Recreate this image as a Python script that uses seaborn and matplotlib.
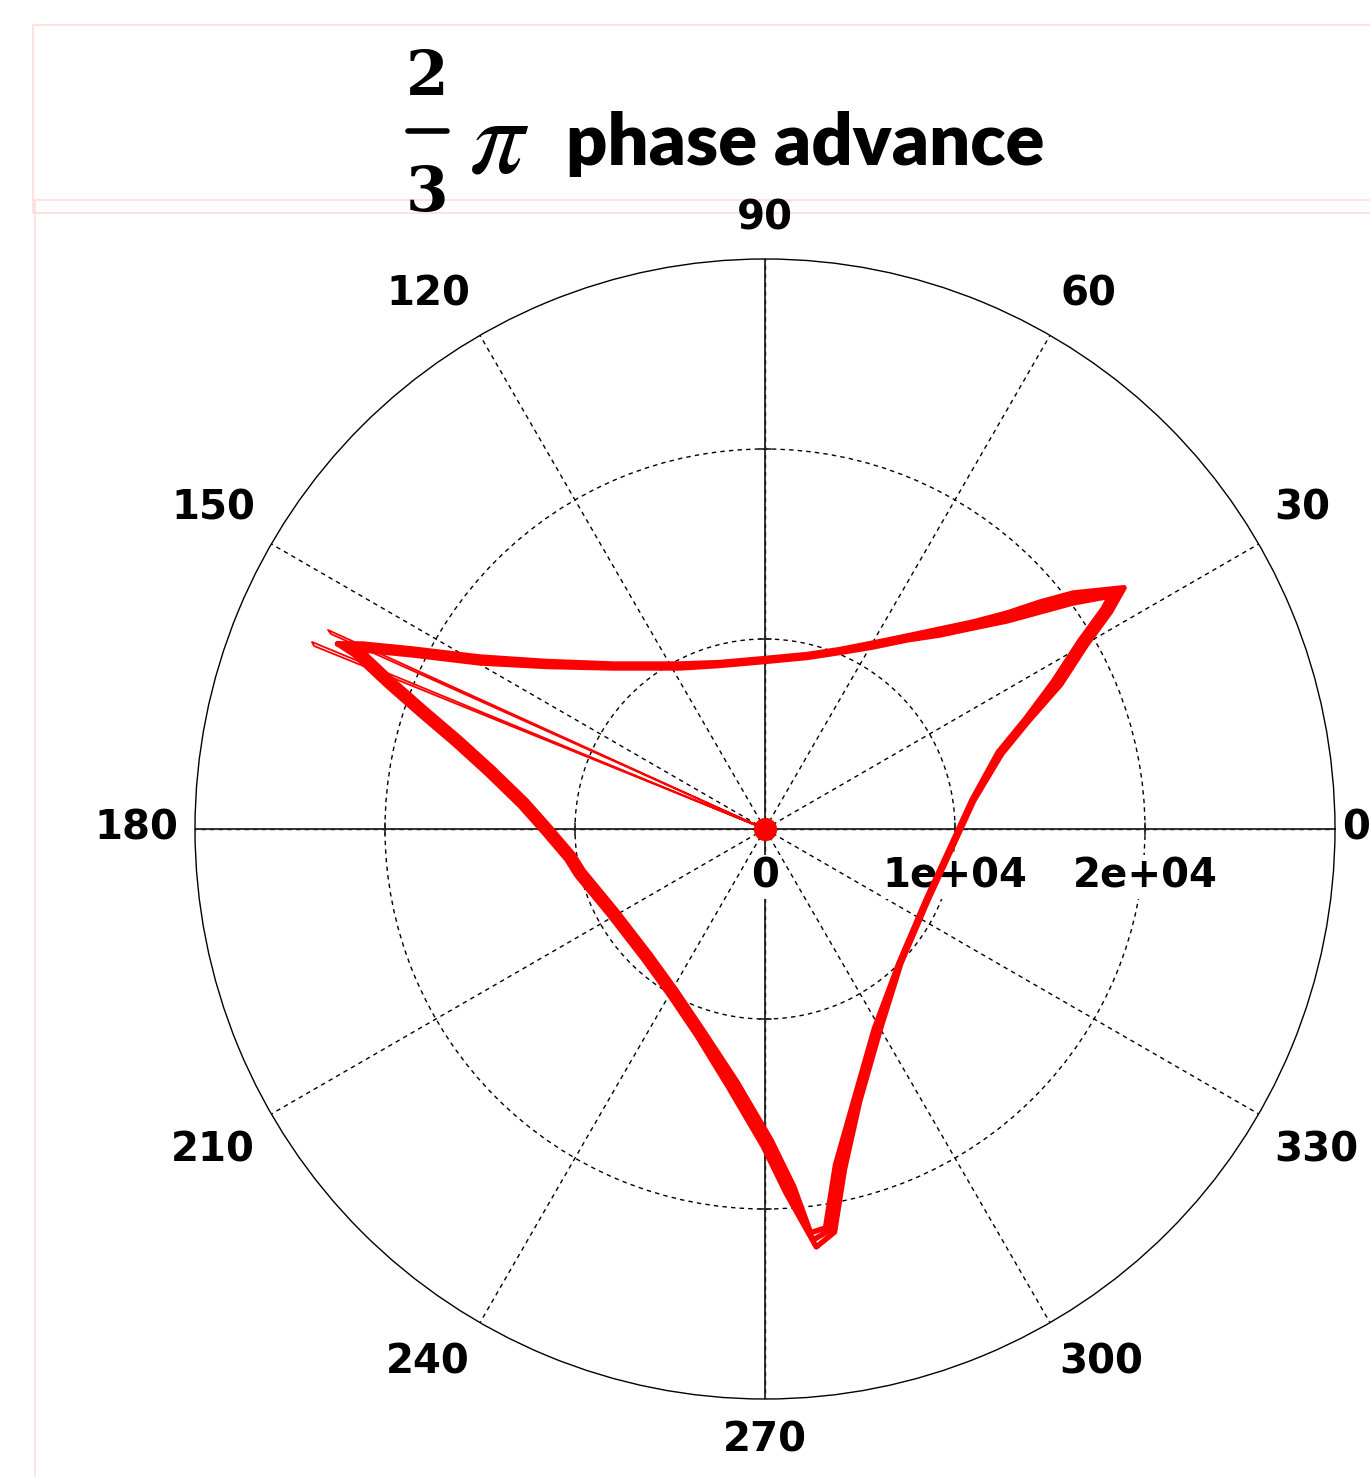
import numpy as np
import pandas as pd
import matplotlib
matplotlib.use("Agg")
import matplotlib.pyplot as plt
from matplotlib.patches import Rectangle
from matplotlib.lines import Line2D
import seaborn as sns

# ---------------- data: phase-space orbit (x, x') ----------------
# three successive turns of the orbit, each running B -> C -> A -> B
mid_x = [-22105, -21474, -19737, -18000, -16211, -14474, -12737, -11474, -10263,
         -9737, -8000, -6211, -4842, -3421, -1684, 105, 1316, 2526,
         3421, 3947, 4842, 5895, 7105, 8526, 9737, 10947, 12368, 13789,
         15368, 16737, 18000, 18526,
         16211, 14474, 12737, 10947, 9211, 7474, 5684, 3947, 2211, 0,
         -2368, -4474, -8000, -11474, -15000, -18526, -21158, -22105]
mid_y = [9632, 9316, 7684, 6158, 4632, 3053, 1368, -53, -1474,
         -2316, -4421, -6737, -8632, -10737, -13474, -16526, -19000, -21632,
         -21105, -17789, -14263, -10579, -7053, -3737, -1105, 1526, 4000, 5737,
         7684, 9789, 11526, 12474,
         12158, 11684, 11158, 10737, 10368, 10053, 9684, 9368, 9105, 8895,
         8684, 8579, 8579, 8684, 8895, 9316, 9579, 9632]

outer_x = [-22500, -21639, -19902, -18165, -16376, -14639, -12902, -11639, -10428,
           -9902, -8165, -6376, -5007, -3586, -1891, -102, 1109, 2700,
           3659, 4185, 4985, 6038, 7153, 8574, 9785, 10995, 12463, 13884,
           15558, 16927, 18190, 18900,
           16211, 14474, 12737, 10947, 9211, 7474, 5684, 3947, 2211, 0,
           -2368, -4474, -8000, -11474, -15000, -18526, -21158, -22500]
outer_y = [9750, 9186, 7554, 6028, 4502, 2923, 1238, -183, -1604,
           -2446, -4551, -6867, -8762, -10867, -13637, -16689, -19163, -22000,
           -21217, -17901, -14330, -10646, -7075, -3759, -1127, 1504, 3955, 5692,
           7595, 9700, 11437, 12700,
           12421, 11947, 11368, 10895, 10526, 10158, 9789, 9447, 9184, 8974,
           8763, 8684, 8684, 8816, 9053, 9474, 9737, 9750]

inner_x = [-21700, -21309, -19572, -17835, -16046, -14309, -12572, -11309, -10098,
           -9572, -7835, -6046, -4677, -3256, -1477, 312, 1523, 2400,
           3183, 3709, 4699, 5752, 7057, 8478, 9689, 10899, 12273, 13694,
           15178, 16547, 17810, 18150,
           16211, 14474, 12737, 10947, 9211, 7474, 5684, 3947, 2211, 0,
           -2368, -4474, -8000, -11474, -15000, -18526, -21158, -21700]
inner_y = [9500, 9446, 7814, 6288, 4762, 3183, 1498, 77, -1344,
           -2186, -4291, -6607, -8502, -10607, -13311, -16363, -18837, -21250,
           -20993, -17677, -14196, -10512, -7031, -3715, -1083, 1548, 4045, 5782,
           7773, 9878, 11615, 12250,
           11895, 11421, 10948, 10579, 10210, 9948, 9579, 9289, 9026, 8816,
           8605, 8474, 8474, 8552, 8737, 9158, 9421, 9500]

# initial excursion from the origin out to the B corner and back
start_x = [0, -23842, -23737, 0, 0, -23000, -22842, 0]
start_y = [0, 9842, 9632, 0, 0, 10474, 10263, 0]

origin_x = [0.0]
origin_y = [0.0]

r_max = 3e4
r_ticks = [0, 1e4, 2e4]
r_tick_labels = ["0", "1e+04", "2e+04"]
theta_ticks = [0, 30, 60, 90, 120, 150, 180, 210, 240, 270, 300, 330]
theta_tick_labels = ["0", "30", "60", "90", "120", "150", "180", "210",
                     "240", "270", "300", "330"]

title_num = "2"
title_den = "3"
title_sym = r"$\pi$"
title_text = "phase advance"

# ---------------- figure ----------------
sns.set_theme(style="white")
plt.rcParams["font.family"] = ["DejaVu Sans"]
plt.rcParams["text.color"] = "black"

W, H = 1370, 1477
fig = plt.figure(figsize=(W / 100, H / 100), dpi=100)
fig.patch.set_facecolor("white")


def fx(px):
    return px / W


def fy(py):
    return 1 - py / H


# pale frames
pink = "#ffdcdc"
fig.add_artist(Rectangle((fx(33), fy(213)), fx(1400) - fx(33), fy(25) - fy(213),
                         transform=fig.transFigure, fill=False, ec=pink, lw=1.2))
fig.add_artist(Rectangle((fx(35), fy(1500)), fx(1400) - fx(35), fy(200) - fy(1500),
                         transform=fig.transFigure, fill=False, ec=pink, lw=1.2))

cx, cy, rad_px = 765, 829, 570
ax = fig.add_axes([fx(cx - rad_px), fy(cy + rad_px), 2 * rad_px / W, 2 * rad_px / H],
                  projection="polar")
ax.set_facecolor("white")
ax.set_rlim(0, r_max)
ax.set_rticks([t for t in r_ticks if t > 0])
ax.set_yticklabels([])
ax.set_thetagrids(theta_ticks, labels=[""] * len(theta_ticks))
ax.grid(True, color="black", linestyle=(0, (3.2, 3)), linewidth=1.0)
ax.spines["polar"].set_color("black")
ax.spines["polar"].set_linewidth(1.0)
ax.tick_params(axis="both", length=0, pad=0)

# solid axes through the centre
for a in (0, 90, 180, 270):
    ax.plot([np.deg2rad(a)] * 2, [0, r_max], color="#222222", lw=1.3, zorder=2)
# small ticks where the rings cross the axes
for rv in r_ticks[1:]:
    d = 6.0 / (rv / r_max * rad_px)
    for a in (0, 90, 180, 270):
        t = np.deg2rad(a)
        ax.plot([t - d, t + d], [rv, rv], color="#222222", lw=1.2, zorder=2)

# angle labels (pixel centres around the dial)
label_pos = {0: (1356, 829), 30: (1302, 508), 60: (1088, 295), 90: (765, 218),
             120: (428, 295), 150: (213, 508), 180: (136, 829),
             210: (213, 1150), 240: (428, 1363), 270: (765, 1440),
             300: (1101, 1363), 330: (1316, 1150)}
for t, lbl in zip(theta_ticks, theta_tick_labels):
    px, py = label_pos[t]
    fig.text(fx(px), fy(py), lbl, ha="center", va="center", fontsize=29,
             fontweight="bold", color="black")

# radial labels
for rv, lbl in zip(r_ticks, r_tick_labels):
    ax.annotate(lbl, xy=(0, rv), xytext=(0, -48), textcoords="offset pixels",
                ha="center", va="center", fontsize=29, fontweight="bold",
                color="black", zorder=4,
                bbox=dict(boxstyle="square,pad=0.05", fc="white", ec="none"))


# orbit, converted to polar coordinates for the dial
def to_polar(xs, ys, name):
    xs = np.asarray(xs, dtype=float)
    ys = np.asarray(ys, dtype=float)
    return pd.DataFrame({"theta": np.arctan2(ys, xs), "r": np.hypot(xs, ys),
                         "pass": name})


df_start = to_polar(start_x, start_y, "start")
df_loops = pd.concat([to_polar(inner_x, inner_y, "inner"),
                      to_polar(mid_x, mid_y, "mid"),
                      to_polar(outer_x, outer_y, "outer")], ignore_index=True)
df_origin = to_polar(origin_x, origin_y, "origin")

sns.lineplot(data=df_start, x="theta", y="r", sort=False, estimator=None,
             color="red", lw=1.3, ax=ax, legend=False, zorder=5)
sns.lineplot(data=df_loops, x="theta", y="r", units="pass", sort=False,
             estimator=None, color="red", lw=3.9, ax=ax, legend=False, zorder=5,
             solid_joinstyle="round", solid_capstyle="round")
sns.scatterplot(data=df_origin, x="theta", y="r", s=280, color="red",
                linewidth=0, ax=ax, zorder=6, legend=False)
ax.set_xlabel("")
ax.set_ylabel("")
ax.set_rlim(0, r_max)

# title: fraction, pi, words
fig.text(fx(427), fy(78), title_num, ha="center", va="center", fontsize=44,
         fontweight="bold", family="DejaVu Serif", color="black")
fig.add_artist(Line2D([fx(408), fx(447)], [fy(131), fy(131)], color="black",
                      lw=4, transform=fig.transFigure))
fig.text(fx(427), fy(194), title_den, ha="center", va="center", fontsize=44,
         fontweight="bold", family="DejaVu Serif", color="black")
fig.text(fx(499), fy(142), title_sym, ha="center", va="center", fontsize=78,
         math_fontfamily="stix", color="black")
fig.text(fx(566), fy(165), title_text, ha="left", va="baseline", fontsize=52,
         fontweight="heavy", family="Lato", color="black")

fig.savefig("out.png", dpi=100, facecolor="white")
